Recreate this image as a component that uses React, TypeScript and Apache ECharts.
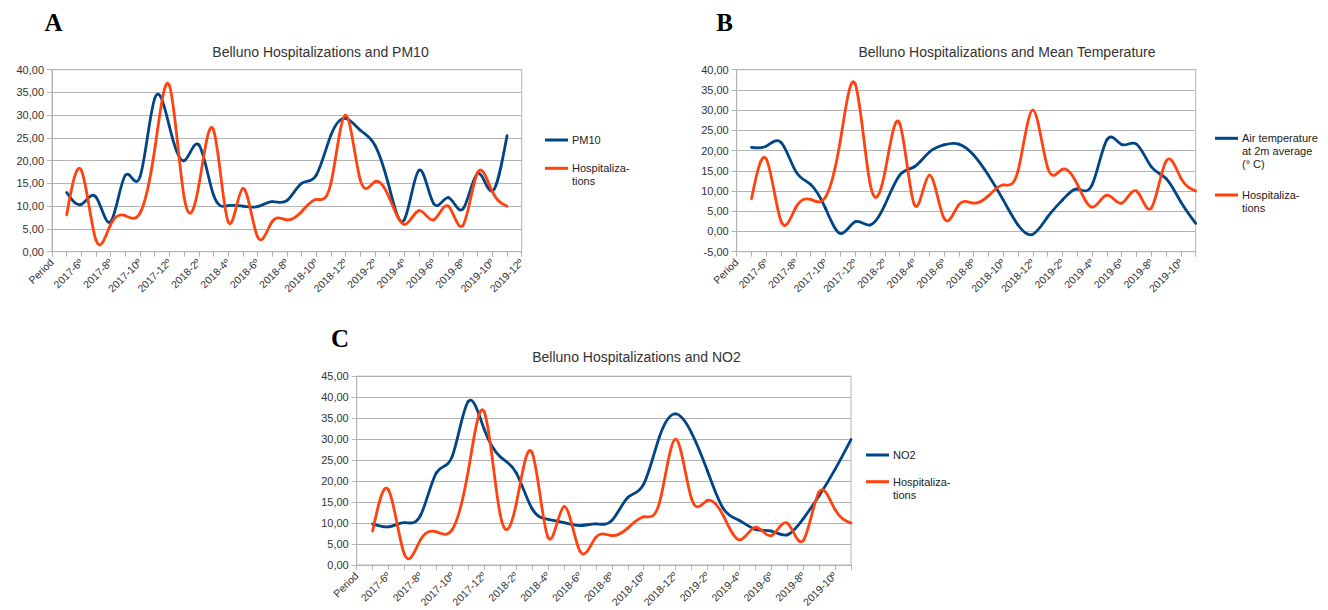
import React, { useEffect, useRef } from 'react';
import * as echarts from 'echarts';

// Category axis: first category "Period", then months
const periodsA = [
  'Period',
  '2017-5º', '2017-6º', '2017-7º', '2017-8º', '2017-9º', '2017-10º', '2017-11º', '2017-12º',
  '2018-1º', '2018-2º', '2018-3º', '2018-4º', '2018-5º', '2018-6º', '2018-7º', '2018-8º',
  '2018-9º', '2018-10º', '2018-11º', '2018-12º',
  '2019-1º', '2019-2º', '2019-3º', '2019-4º', '2019-5º', '2019-6º', '2019-7º', '2019-8º',
  '2019-9º', '2019-10º', '2019-11º', '2019-12º',
];
const periodsBC = periodsA.slice(0, 32);

// Monthly values 2017-5 ... 2019-11
const hospitalizations = [
  8.1, 17.9, 2.5, 6.0, 7.9, 8.5, 22.5, 36.5, 12.0, 14.5, 26.8, 6.6, 13.9, 3.3, 6.6, 7.0,
  8.8, 11.5, 15.0, 30.0, 15.8, 15.4, 11.7, 6.0, 9.0, 7.0, 10.0, 5.8, 17.4, 13.2, 10.0,
];
const pm10 = [
  13.0, 10.4, 12.0, 6.6, 16.8, 16.5, 33.7, 27.5, 20.0, 23.5, 12.5, 10.1, 10.0, 9.9, 11.0, 11.2,
  15.0, 16.8, 25.6, 29.3, 26.7, 23.4, 13.9, 7.0, 17.9, 10.6, 11.9, 9.4, 17.2, 13.3, 25.5,
];
const temperature = [
  20.8, 21.1, 22.0, 14.8, 11.6, 5.7, -0.5, 2.4, 1.6, 6.5, 13.9, 16.0, 19.6, 21.4, 21.6, 18.9,
  13.9, 7.8, 1.6, -0.7, 3.6, 7.8, 10.5, 11.5, 22.6, 21.5, 21.6, 16.0, 13.1, 7.3, 2.0,
];
const no2 = [
  9.8, 9.1, 10.1, 11.8, 22.0, 26.0, 39.0, 32.3, 25.8, 22.0, 13.4, 10.9, 10.1, 9.4, 9.8, 10.6,
  16.1, 19.3, 30.7, 36.0, 31.5, 22.4, 13.4, 10.6, 8.5, 8.1, 7.2, 11.0, 16.5, 22.8, 29.9,
];

const titles = [
  'Belluno Hospitalizations and PM10',
  'Belluno Hospitalizations and Mean Temperature',
  'Belluno Hospitalizations and NO2',
];
const panelLetters = ['A', 'B', 'C'];
const legendA = ['PM10', 'Hospitaliza-\ntions'];
const legendB = ['Air temperature\nat 2m average\n(° C)', 'Hospitaliza-\ntions'];
const legendC = ['NO2', 'Hospitaliza-\ntions'];

const yRangeA = [0, 40];
const yRangeB = [-5, 40];
const yRangeC = [0, 45];

const BLUE = '#004586';
const ORANGE = '#ff420e';
const GRID = '#b3b3b3';
const TEXT = '#333333';
const SANS = '"Liberation Sans", Arial, sans-serif';
const SERIF = '"Liberation Serif", "Times New Roman", serif';

// Slopes of a natural cubic spline through equally spaced values (rendering only)
function splineSlopes(v: number[]): number[] {
  const n = v.length;
  const M = new Array(n).fill(0);
  if (n > 2) {
    const m = n - 2;
    const a = new Array(m).fill(1);
    const b = new Array(m).fill(4);
    const c = new Array(m).fill(1);
    const r = new Array(m);
    for (let i = 0; i < m; i++) r[i] = 6 * (v[i + 2] - 2 * v[i + 1] + v[i]);
    for (let i = 1; i < m; i++) {
      const w = a[i] / b[i - 1];
      b[i] -= w * c[i - 1];
      r[i] -= w * r[i - 1];
    }
    const sol = new Array(m);
    sol[m - 1] = r[m - 1] / b[m - 1];
    for (let i = m - 2; i >= 0; i--) sol[i] = (r[i] - c[i] * sol[i + 1]) / b[i];
    for (let i = 0; i < m; i++) M[i + 1] = sol[i];
  }
  const d = new Array(n);
  for (let i = 0; i < n - 1; i++) d[i] = v[i + 1] - v[i] - (2 * M[i] + M[i + 1]) / 6;
  d[n - 1] = v[n - 1] - v[n - 2] + (M[n - 2] + 2 * M[n - 1]) / 6;
  return d;
}

function xAxis(gridIndex: number, data: string[]) {
  return {
    type: 'category',
    gridIndex,
    data,
    boundaryGap: false,
    axisLine: { show: true, onZero: false, lineStyle: { color: GRID, width: 1 } },
    axisTick: { show: true, interval: 0, length: 5, lineStyle: { color: GRID } },
    axisLabel: {
      rotate: 45,
      interval: (i: number) => i % 2 === 0,
      fontSize: 10.5,
      color: TEXT,
      fontFamily: SANS,
      margin: 9,
    },
    splitLine: { show: false },
  };
}

function yAxis(gridIndex: number, range: number[]) {
  return {
    type: 'value',
    gridIndex,
    min: range[0],
    max: range[1],
    interval: 5,
    axisLine: { show: true, lineStyle: { color: GRID } },
    axisTick: { show: true, length: 5, lineStyle: { color: GRID } },
    splitLine: { show: true, lineStyle: { color: GRID, width: 1 } },
    axisLabel: {
      formatter: (v: number) => v.toFixed(2).replace('.', ','),
      fontSize: 11,
      color: TEXT,
      fontFamily: SANS,
      margin: 8,
    },
  };
}

// Smooth line drawn as a spline through the monthly points (x index starts at 1, after "Period")
function splineSeries(name: string, idx: number, vals: number[], color: string, z: number) {
  const slopes = splineSlopes(vals);
  return {
    type: 'custom',
    name,
    xAxisIndex: idx,
    yAxisIndex: idx,
    z,
    clip: false,
    silent: true,
    encode: { x: 0, y: 1 },
    data: vals.map((v, i) => [i + 1, v]),
    renderItem: (params: any, api: any) => {
      const i = params.dataIndex;
      if (i >= vals.length - 1) {
        return { type: 'group', children: [] };
      }
      const p0 = api.coord([i + 1, vals[i]]);
      const p1 = api.coord([i + 2, vals[i + 1]]);
      const c1 = api.coord([i + 1, vals[i] + slopes[i] / 3]);
      const c2 = api.coord([i + 2, vals[i + 1] - slopes[i + 1] / 3]);
      const dx = p1[0] - p0[0];
      return {
        type: 'bezierCurve',
        shape: {
          x1: p0[0], y1: p0[1],
          x2: p1[0], y2: p1[1],
          cpx1: p0[0] + dx / 3, cpy1: c1[1],
          cpx2: p0[0] + (2 * dx) / 3, cpy2: c2[1],
        },
        style: { stroke: color, fill: 'none', lineWidth: 2.8, lineCap: 'round' },
      };
    },
  };
}

function legendItem(x: number, y: number, label: string, color: string) {
  return [
    {
      type: 'line',
      shape: { x1: x, y1: y, x2: x + 23, y2: y },
      style: { stroke: color, lineWidth: 3 },
    },
    {
      type: 'text',
      x: x + 27,
      y: y - 6.5,
      style: {
        text: label,
        fill: '#222',
        font: `11px ${SANS}`,
        lineHeight: 13,
        textAlign: 'left',
        textVerticalAlign: 'top',
      },
    },
  ];
}

function centeredText(x: number, y: number, text: string, font: string, color: string) {
  return {
    type: 'text',
    x,
    y,
    style: { text, font, fill: color, textAlign: 'center', textVerticalAlign: 'middle' },
  };
}

export default function App() {
  const ref = useRef<HTMLDivElement>(null);

  useEffect(() => {
    if (!ref.current) return;
    const chart = echarts.init(ref.current, undefined, { renderer: 'svg' });
    const option = {
      animation: false,
      backgroundColor: '#ffffff',
      grid: [
        { left: 52, top: 69.7, width: 469.7, height: 182, show: true, borderColor: GRID, borderWidth: 1, containLabel: false },
        { left: 736.7, top: 69.7, width: 459, height: 182, show: true, borderColor: GRID, borderWidth: 1, containLabel: false },
        { left: 356.7, top: 376.2, width: 494.3, height: 190.5, show: true, borderColor: GRID, borderWidth: 1, containLabel: false },
      ],
      xAxis: [xAxis(0, periodsA), xAxis(1, periodsBC), xAxis(2, periodsBC)],
      yAxis: [yAxis(0, yRangeA), yAxis(1, yRangeB), yAxis(2, yRangeC)],
      series: [
        splineSeries('PM10', 0, pm10, BLUE, 2),
        splineSeries('Hospitalizations', 0, hospitalizations, ORANGE, 3),
        splineSeries('Air temperature at 2m average (° C)', 1, temperature, BLUE, 2),
        splineSeries('Hospitalizations', 1, hospitalizations, ORANGE, 3),
        splineSeries('NO2', 2, no2, BLUE, 2),
        splineSeries('Hospitalizations', 2, hospitalizations, ORANGE, 3),
      ],
      graphic: [
        centeredText(53.5, 22, panelLetters[0], `bold 25px ${SERIF}`, '#000'),
        centeredText(724.5, 22, panelLetters[1], `bold 25px ${SERIF}`, '#000'),
        centeredText(340, 338.5, panelLetters[2], `bold 25px ${SERIF}`, '#000'),
        centeredText(320.5, 51.7, titles[0], `14px ${SANS}`, TEXT),
        centeredText(1007, 51.7, titles[1], `14px ${SANS}`, TEXT),
        centeredText(636.5, 357.3, titles[2], `14px ${SANS}`, TEXT),
        ...legendItem(545, 140, legendA[0], BLUE),
        ...legendItem(545, 168.3, legendA[1], ORANGE),
        ...legendItem(1215, 138.3, legendB[0], BLUE),
        ...legendItem(1215, 195, legendB[1], ORANGE),
        ...legendItem(866, 455, legendC[0], BLUE),
        ...legendItem(866, 481.7, legendC[1], ORANGE),
      ],
    };
    chart.setOption(option as any);
    return () => chart.dispose();
  }, []);

  return (
    <div
      ref={ref}
      style={{ position: 'fixed', left: 0, top: 0, width: 1328, height: 610, background: '#fff' }}
    />
  );
}
